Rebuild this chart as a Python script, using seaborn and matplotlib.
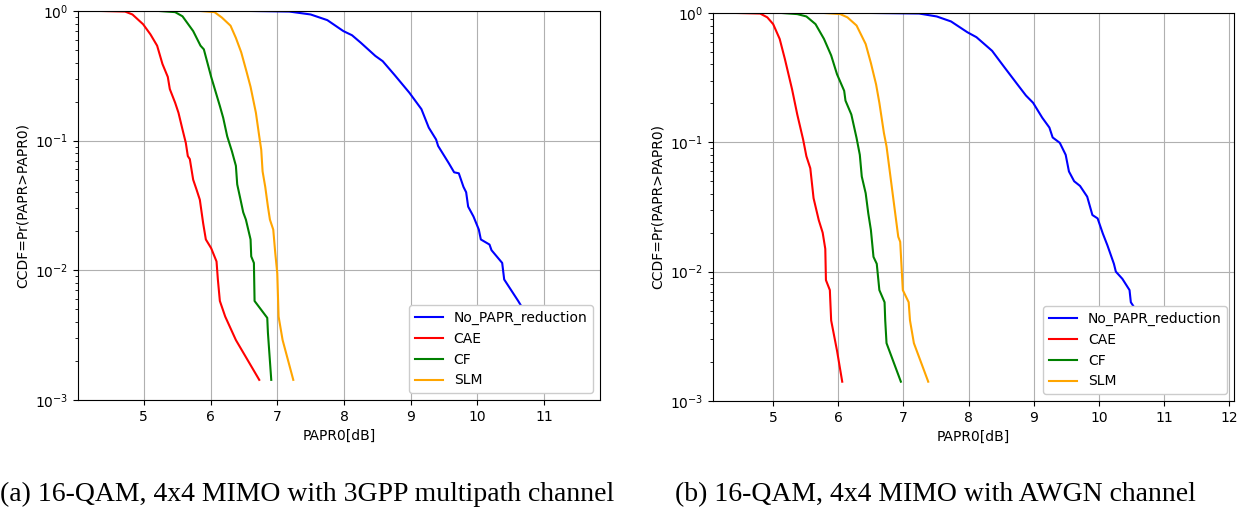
import matplotlib
matplotlib.use("Agg")
import matplotlib.pyplot as plt
import seaborn as sns
import numpy as np
import pandas as pd

# ---- (a) 16-QAM, 4x4 MIMO, 3GPP multipath channel ----
papr_a_none = [6.62, 7.18, 7.50, 7.75, 7.99, 8.12, 8.25, 8.47, 8.58, 8.76, 8.98, 9.16, 9.27, 9.38,
               9.41, 9.57, 9.65, 9.72, 9.79, 9.83, 9.86, 9.94, 10.02, 10.05, 10.18, 10.21, 10.37,
               10.40, 10.61, 10.80, 11.00, 11.25, 11.48]
ccdf_a_none = [1.0, 0.99, 0.94, 0.85, 0.70, 0.65, 0.57, 0.45, 0.41, 0.32, 0.234, 0.175, 0.126, 0.102,
               0.091, 0.067, 0.057, 0.056, 0.044, 0.040, 0.031, 0.026, 0.0206, 0.0173, 0.0158, 0.0143,
               0.0114, 0.0085, 0.0058, 0.0040, 0.0028, 0.0020, 0.00143]

papr_a_cae = [4.37, 4.72, 4.83, 4.99, 5.10, 5.20, 5.28, 5.36, 5.39, 5.47, 5.52, 5.58, 5.63, 5.66,
              5.69, 5.74, 5.79, 5.84, 5.89, 5.93, 6.01, 6.09, 6.11, 6.14, 6.22, 6.38, 6.73]
ccdf_a_cae = [1.0, 0.99, 0.94, 0.79, 0.66, 0.54, 0.39, 0.31, 0.25, 0.196, 0.164, 0.122, 0.096, 0.076,
              0.072, 0.050, 0.042, 0.035, 0.023, 0.0173, 0.0148, 0.0117, 0.0085, 0.0058, 0.0044,
              0.0029, 0.00143]

papr_a_cf = [5.23, 5.47, 5.58, 5.74, 5.85, 5.90, 6.01, 6.14, 6.19, 6.25, 6.32, 6.38, 6.40, 6.45,
             6.49, 6.53, 6.60, 6.61, 6.65, 6.66, 6.85, 6.86, 6.91]
ccdf_a_cf = [1.0, 0.98, 0.91, 0.70, 0.54, 0.506, 0.31, 0.185, 0.15, 0.108, 0.083, 0.064, 0.046, 0.035,
             0.028, 0.0246, 0.0173, 0.0128, 0.0114, 0.0058, 0.0043, 0.0033, 0.00143]

papr_a_slm = [5.85, 6.06, 6.17, 6.30, 6.38, 6.46, 6.54, 6.60, 6.68, 6.73, 6.76, 6.78, 6.82, 6.86,
              6.89, 6.94, 6.97, 7.00, 7.02, 7.08, 7.24]
ccdf_a_slm = [1.0, 0.98, 0.89, 0.77, 0.62, 0.48, 0.34, 0.26, 0.164, 0.108, 0.085, 0.058, 0.044, 0.031,
              0.0246, 0.0206, 0.0136, 0.0095, 0.0044, 0.0029, 0.00143]

# ---- (b) 16-QAM, 4x4 MIMO, AWGN channel ----
papr_b_none = [6.52, 7.24, 7.51, 7.73, 7.98, 8.12, 8.36, 8.47, 8.55, 8.75, 8.88, 8.99, 9.13, 9.24,
               9.29, 9.40, 9.49, 9.54, 9.62, 9.71, 9.82, 9.90, 9.98, 10.06, 10.13, 10.23, 10.26,
               10.36, 10.47, 10.49, 10.70, 11.00, 11.40, 11.71]
ccdf_b_none = [1.0, 0.99, 0.94, 0.86, 0.71, 0.65, 0.51, 0.43, 0.38, 0.28, 0.23, 0.202, 0.155, 0.13,
               0.109, 0.099, 0.080, 0.0595, 0.050, 0.046, 0.038, 0.0274, 0.0258, 0.0197, 0.016,
               0.0115, 0.010, 0.0088, 0.0072, 0.0058, 0.0040, 0.0028, 0.0020, 0.00141]

papr_b_cae = [4.44, 4.80, 4.91, 5.00, 5.10, 5.18, 5.29, 5.37, 5.46, 5.51, 5.57, 5.62, 5.70, 5.76,
              5.80, 5.81, 5.87, 5.89, 5.98, 6.06]
ccdf_b_cae = [1.0, 0.99, 0.925, 0.82, 0.63, 0.44, 0.257, 0.164, 0.105, 0.078, 0.063, 0.037, 0.025,
              0.020, 0.015, 0.0086, 0.0072, 0.0042, 0.00245, 0.00141]

papr_b_cf = [5.13, 5.37, 5.51, 5.65, 5.78, 5.89, 5.98, 6.09, 6.11, 6.20, 6.28, 6.33, 6.36, 6.42,
             6.46, 6.50, 6.54, 6.59, 6.63, 6.71, 6.72, 6.74, 6.96]
ccdf_b_cf = [1.0, 0.98, 0.94, 0.82, 0.63, 0.47, 0.336, 0.25, 0.21, 0.164, 0.108, 0.080, 0.0544,
             0.0404, 0.0282, 0.021, 0.013, 0.0115, 0.0072, 0.0058, 0.0042, 0.0028, 0.00141]

papr_b_slm = [5.78, 6.03, 6.14, 6.28, 6.42, 6.50, 6.58, 6.63, 6.70, 6.74, 6.80, 6.86, 6.92, 6.95,
              6.99, 7.08, 7.10, 7.16, 7.38]
ccdf_b_slm = [1.0, 0.98, 0.925, 0.80, 0.575, 0.41, 0.28, 0.202, 0.118, 0.093, 0.0544, 0.0318,
              0.0186, 0.017, 0.0072, 0.0058, 0.0042, 0.0028, 0.00141]

method_names = ["No_PAPR_reduction", "CAE", "CF", "SLM"]
method_colors = ["blue", "red", "green", "orange"]

panel_a = [(papr_a_none, ccdf_a_none), (papr_a_cae, ccdf_a_cae),
           (papr_a_cf, ccdf_a_cf), (papr_a_slm, ccdf_a_slm)]
panel_b = [(papr_b_none, ccdf_b_none), (papr_b_cae, ccdf_b_cae),
           (papr_b_cf, ccdf_b_cf), (papr_b_slm, ccdf_b_slm)]

captions = ["(a) 16-QAM, 4x4 MIMO with 3GPP multipath channel",
            "(b) 16-QAM, 4x4 MIMO with AWGN channel"]

fig = plt.figure(figsize=(12.5, 5.23), dpi=100)
ax_a = fig.add_axes([0.0624, 0.2352, 0.4176, 0.7438])
ax_b = fig.add_axes([0.5704, 0.2333, 0.4168, 0.7419])


def draw_panel(ax, series):
    for (x, y), name, color in zip(series, method_names, method_colors):
        df = pd.DataFrame({"PAPR0": x, "CCDF": y})
        sns.lineplot(data=df, x="PAPR0", y="CCDF", color=color, label=name,
                     sort=False, estimator=None, linewidth=1.5, ax=ax)
    ax.set_yscale("log")
    ax.set_ylim(1e-3, 1)
    ax.set_xticks([5, 6, 7, 8, 9, 10, 11, 12])
    xmin = min(min(x) for x, _ in series)
    xmax = max(max(x) for x, _ in series)
    pad = 0.05 * (xmax - xmin)
    ax.set_xlim(xmin - pad, xmax + pad)
    ax.grid(True, which="major", color="#b0b0b0", linewidth=0.8)
    ax.set_axisbelow(True)
    ax.set_xlabel("PAPR0[dB]", fontsize=10)
    ax.set_ylabel("CCDF=Pr(PAPR>PAPR0)", fontsize=10)
    ax.tick_params(labelsize=10)
    ax.legend(loc="lower right", framealpha=1, fontsize=10)


draw_panel(ax_a, panel_a)
draw_panel(ax_b, panel_b)

fig.text(0.246, 0.054, captions[0], ha="center", va="center",
         family="Liberation Serif", fontsize=20)
fig.text(0.748, 0.054, captions[1], ha="center", va="center",
         family="Liberation Serif", fontsize=20)

fig.savefig("out.png", dpi=100)
